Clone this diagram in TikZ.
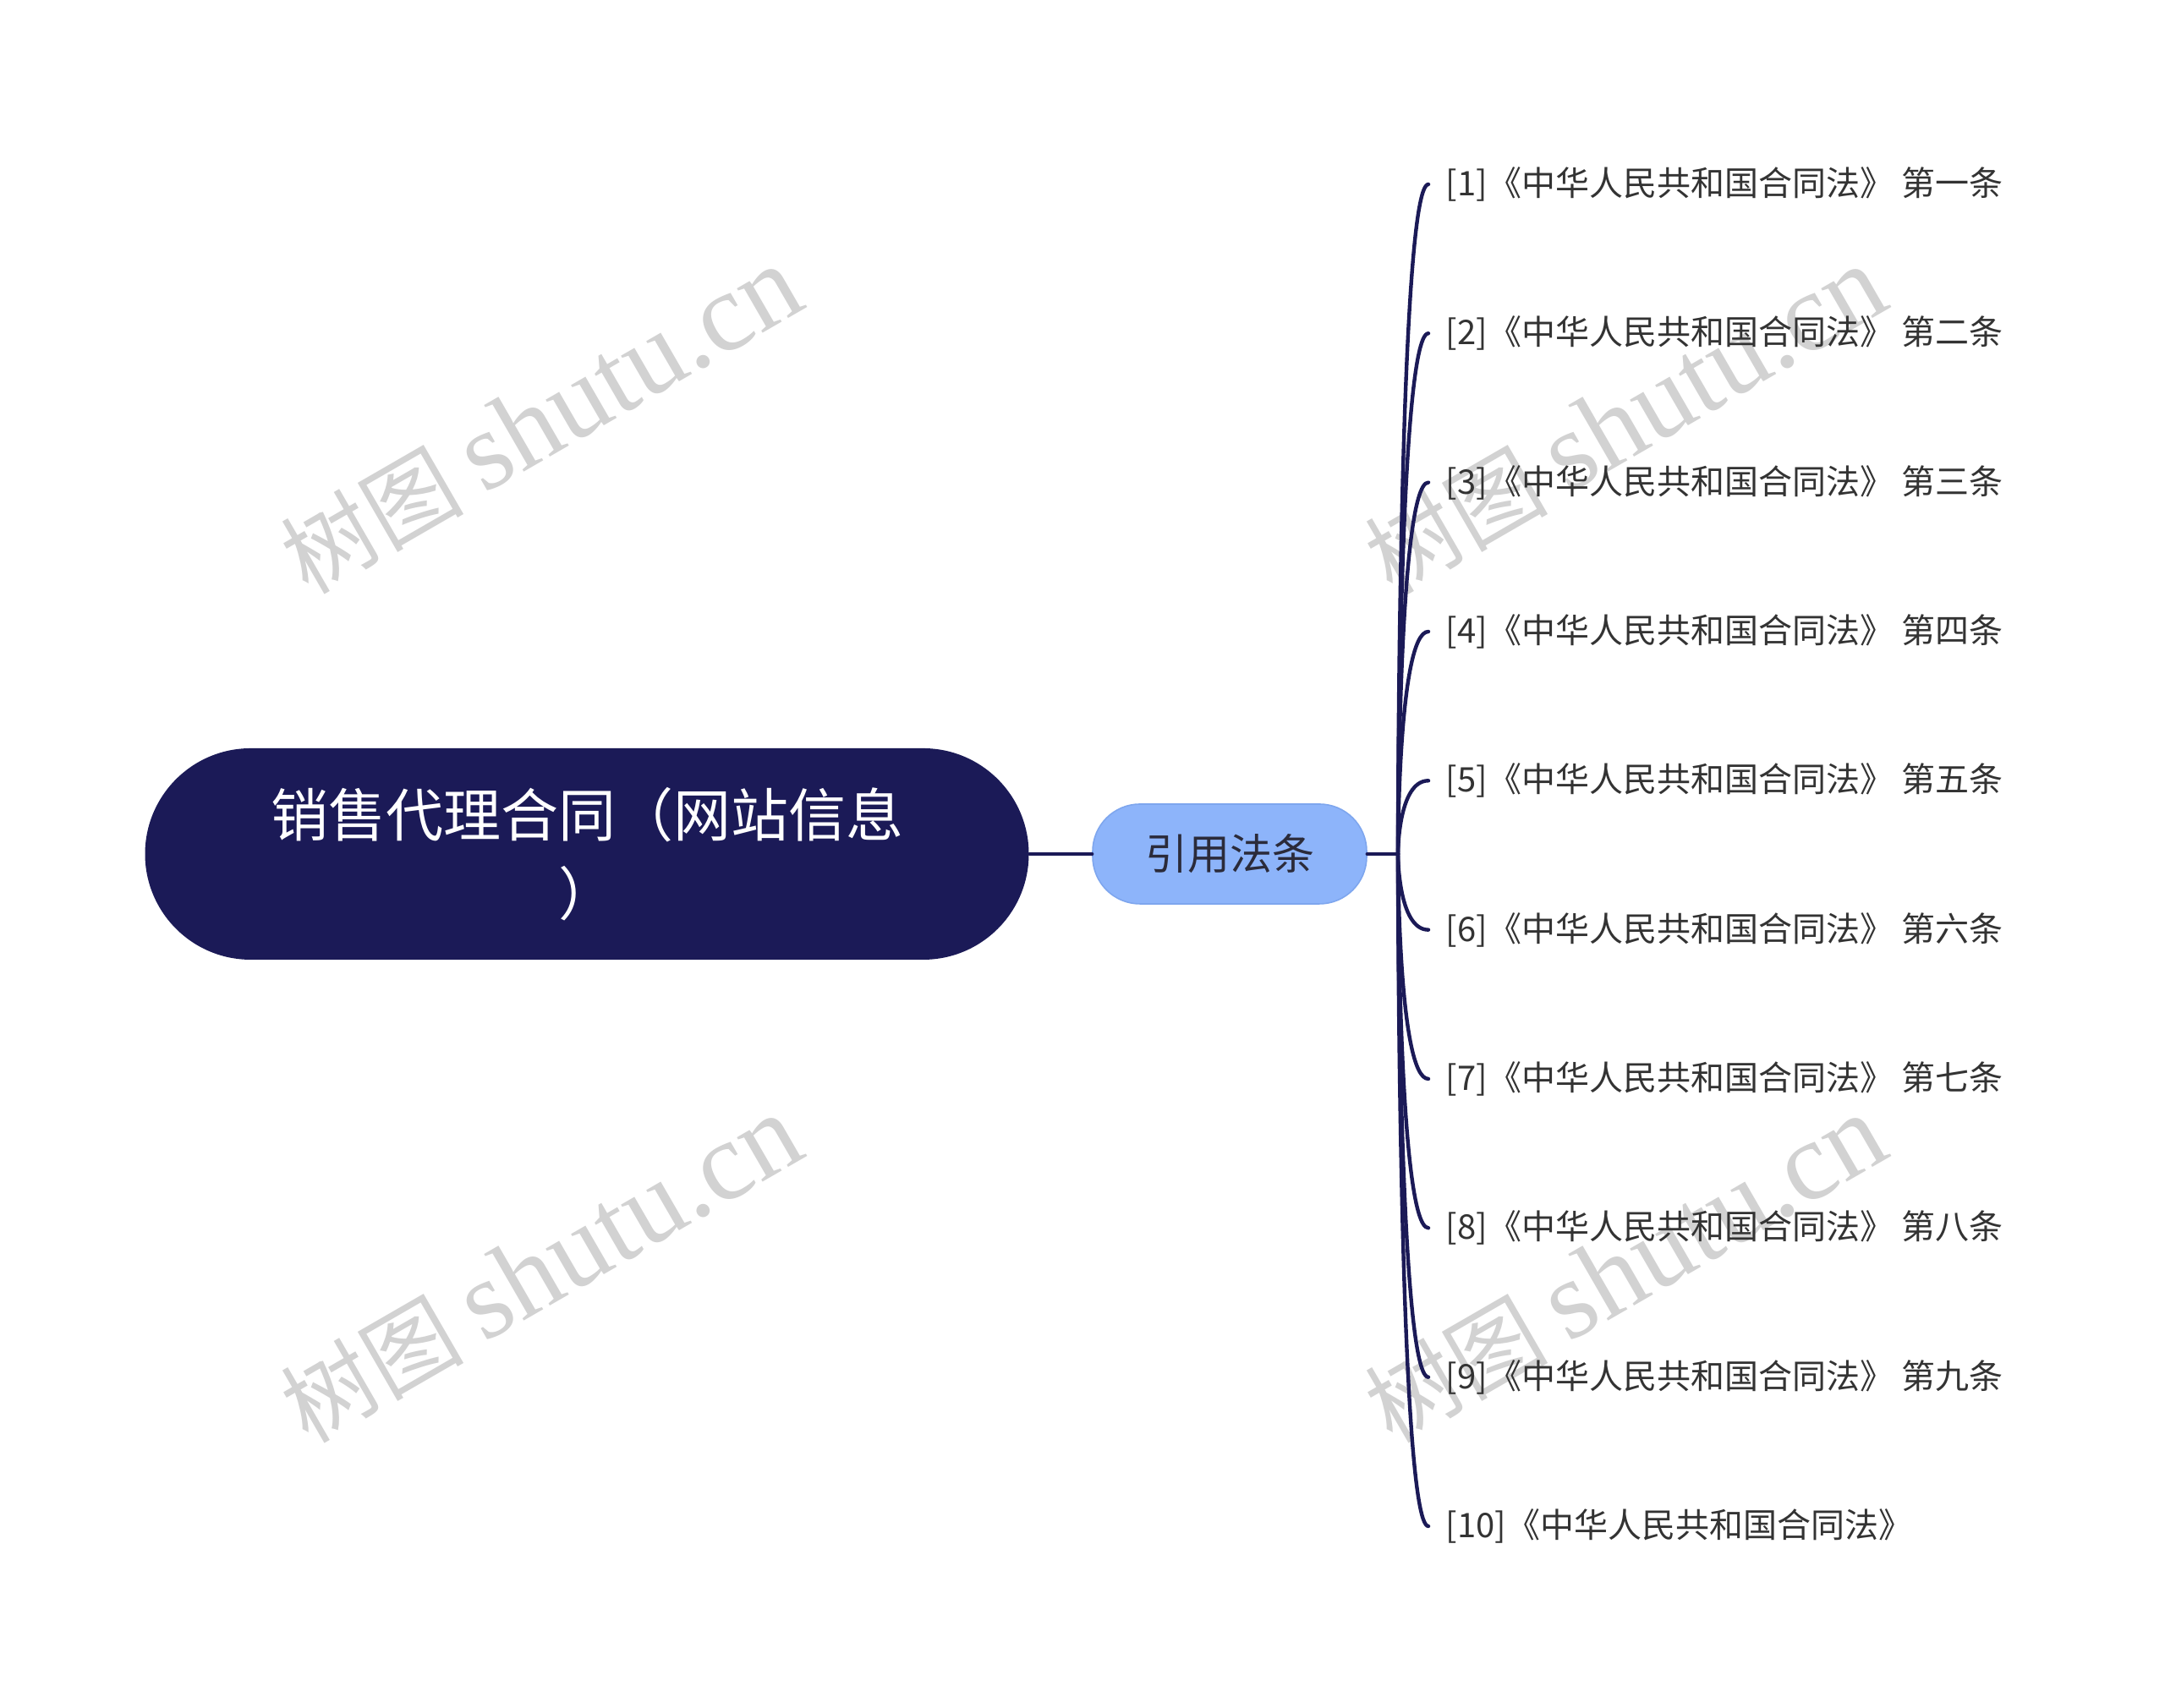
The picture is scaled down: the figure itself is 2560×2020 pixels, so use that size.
\documentclass[tikz,border=0pt]{standalone}
\usepackage{fontspec}
\setmainfont{Noto Sans CJK SC}
\newfontfamily\wmserif{Liberation Serif}
\usetikzlibrary{calc,backgrounds,shapes.misc}
\definecolor{navy}{HTML}{1B1A57}
\definecolor{midblue}{HTML}{8DB4FA}
\definecolor{midedge}{HTML}{7EA6EE}
\definecolor{midtext}{HTML}{2B2B3A}
\definecolor{leafgray}{HTML}{333333}
\definecolor{wmgray}{HTML}{D2D2D2}
\begin{document}
\begin{tikzpicture}[x=0.25pt,y=0.25pt,
  branch/.style={draw=navy,line width=1.1pt,line cap=round},
  leaf/.style={anchor=west,inner xsep=5pt,inner ysep=0pt,text=leafgray,
    font=\fontsize{10}{12}\selectfont},
  watermark/.style={text=wmgray,rotate=30,inner sep=0pt,
    font=\fontsize{27}{30}\selectfont},
  rootbox/.style={rounded rectangle,fill=navy,minimum width=261.25pt,
    minimum height=62.5pt,inner sep=0pt,
    text=white,align=center,font=\fontsize{17}{23.25}\selectfont},
  midbox/.style={fill=midblue,draw=midedge,line width=0.4pt,rounded corners=14pt,
    minimum width=81pt,minimum height=29.5pt,inner sep=0pt,text=midtext,
    font=\fontsize{12.5}{15}\selectfont}]
\begin{scope}[on background layer]
  \fill[white] (0,0) rectangle (2560,2020);
\end{scope}
\useasboundingbox (0,0) rectangle (2560,2020);

% watermarks
\newcommand{\wmtext}{树图 {\wmserif\fontsize{33}{33}\selectfont shutu.cn}}
\node[watermark] (wm1) at (640,1522) {\wmtext};
\node[watermark] (wm2) at (640,518) {\wmtext};
\node[watermark] (wm3) at (1922,1522) {\wmtext};
\node[watermark] (wm4) at (1922,518) {\wmtext};

% root
\node[rootbox] (root) at (694,1010) {销售代理合同（网站信息\\）};

% middle
\node[midbox] (mid) at (1454,1010) {引用法条};
\coordinate (j) at (1653,1010);

% leaves
\node[leaf] (L1) at (1689,1802) {[1]《中华人民共和国合同法》 第一条};
\node[leaf] (L2) at (1689,1625.7) {[2]《中华人民共和国合同法》 第二条};
\node[leaf] (L3) at (1689,1449.4) {[3]《中华人民共和国合同法》 第三条};
\node[leaf] (L4) at (1689,1273) {[4]《中华人民共和国合同法》 第四条};
\node[leaf] (L5) at (1689,1096.7) {[5]《中华人民共和国合同法》 第五条};
\node[leaf] (L6) at (1689,920.3) {[6]《中华人民共和国合同法》 第六条};
\node[leaf] (L7) at (1689,744) {[7]《中华人民共和国合同法》 第七条};
\node[leaf] (L8) at (1689,567.7) {[8]《中华人民共和国合同法》 第八条};
\node[leaf] (L9) at (1689,391.3) {[9]《中华人民共和国合同法》 第九条};
\node[leaf] (L10) at (1689,215) {[10]《中华人民共和国合同法》};

% connectors
\draw[branch] (root.east) -- (mid.west);
\draw[branch] (mid.east) -- (j);
\foreach \i in {1,...,10}
  \draw[branch] (j) .. controls (j) and (j |- L\i.west) .. (L\i.west);
\end{tikzpicture}
\end{document}
